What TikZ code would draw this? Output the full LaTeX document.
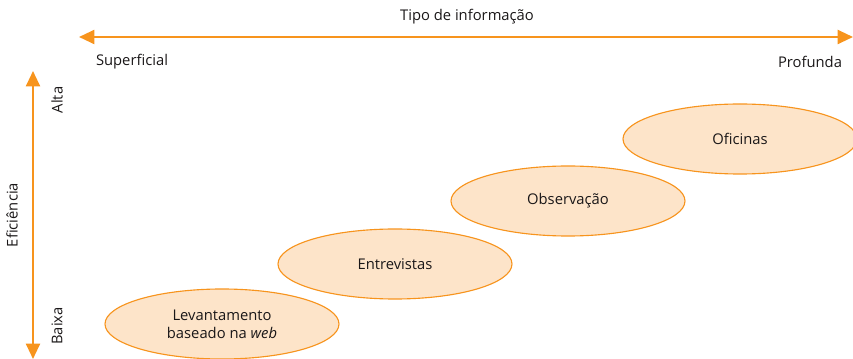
\documentclass[tikz,border=0pt]{standalone}
\usepackage{fontspec}
\setmainfont{Open Sans}
\usepackage{xcolor}
\usepackage{tikz}
\usetikzlibrary{shapes.geometric,arrows.meta}
\definecolor{laranja}{HTML}{F7941D}
\definecolor{pele}{HTML}{FDE4C9}
\definecolor{texto}{HTML}{1A1718}
\tikzset{
  Eixo/.style={
    draw=laranja, line width=1.6pt,
    {Triangle[length=11pt,width=10pt]}-{Triangle[length=11pt,width=10pt]}
  },
  Tecnica/.style={
    ellipse, draw=laranja, fill=pele, line width=0.8pt,
    minimum width=234*0.025cm, minimum height=70*0.025cm,
    align=center, text=texto, font=\fontsize{10.5}{13}\selectfont
  },
  Rotulo/.style={text=texto, font=\fontsize{10.5}{13}\selectfont}
}

\begin{document}
\begin{tikzpicture}[x=0.025cm, y=-0.025cm, line cap=round, line join=round]
  \useasboundingbox (0,0) rectangle (853,359);
  \coordinate (HEsq) at (79,37);
  \coordinate (HDir) at (853,37);
  \coordinate (VTopo) at (33,71);
  \coordinate (VBase) at (33,359);

  \draw[Eixo] (HEsq)--(HDir);
  \draw[Eixo] (VTopo)--(VBase);

  % eixos
  \node[Rotulo] (tipo) at (467,17) {Tipo de informação};
  \node[Rotulo] (sup) at (132,62) {Superficial};
  \node[Rotulo] (prof) at (810,62) {Profunda};
  \node[Rotulo, rotate=90] (alta) at (57,100) {Alta};
  \node[Rotulo, rotate=90] (baixa) at (57,326) {Baixa};
  \node[Rotulo, rotate=90] (efic) at (12,215) {Eficiência};

  % tecnicas
  \node[Tecnica] (lev) at (222,324) {Levantamento\\baseado na \textit{web}};
  \node[Tecnica] (ent) at (395,264) {Entrevistas};
  \node[Tecnica] (obs) at (568,201) {Observação};
  \node[Tecnica] (ofi) at (740,139) {Oficinas};
\end{tikzpicture}
\end{document}
